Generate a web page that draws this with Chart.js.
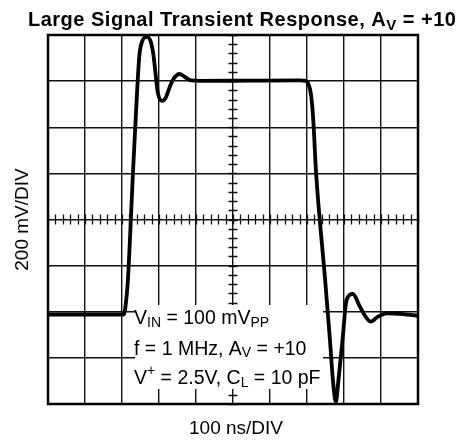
<!DOCTYPE html>
<html>
<head>
<meta charset="utf-8">
<script src="https://cdn.jsdelivr.net/npm/chart.js@4/dist/chart.umd.min.js"></script>
<style>
  html, body { margin: 0; padding: 0; background: #fff; }
  #c { display: block; }
</style>
</head>
<body>
<canvas id="c" width="472" height="443"></canvas>
<script>
// Output waveform samples: time in ns, output in mV
const timeNs = [0, 205, 212, 216, 230, 241, 247, 255, 266, 277, 285, 291, 297, 309, 319, 330, 341, 355, 370, 386, 411, 540, 681, 697, 705, 711, 717, 724, 749, 762, 770, 778, 785, 796, 807, 824, 843, 861, 872, 892, 915, 959, 1000];
const outputMv = [388, 388, 460, 538, 1015, 1362, 1513, 1574, 1591, 1574, 1513, 1427, 1348, 1314, 1331, 1379, 1414, 1431, 1418, 1403, 1401, 1402, 1403, 1401, 1383, 1340, 1231, 1015, 538, 278, 104, 9, 104, 278, 451, 477, 422, 373, 357, 379, 393, 390, 382];

// Scope screen: 10 x 8 divisions
const xRangeNs = [0, 1000];
const nsPerDiv = 100;
const yRangeMv = [0, 1600];
const mvPerDiv = 200;
const minorPerDiv = 5;

// Text runs: [text, 'sub' | 'sup' | undefined]
const titleRuns = [['Large Signal Transient Response, A'], ['V', 'sub'], [' = +10']];
const xAxisLabel = '100 ns/DIV';
const yAxisLabel = '200 mV/DIV';
const noteLines = [
  [['V'], ['IN', 'sub'], [' = 100 mV'], ['PP', 'sub']],
  [['f = 1 MHz, A'], ['V', 'sub'], [' = +10']],
  [['V'], ['+', 'sup'], [' = 2.5V, C'], ['L', 'sub'], [' = 10 pF']]
];

const FONT = '"Liberation Sans", Arial, Helvetica, sans-serif';

function drawRuns(ctx, x, y, runs, size, weight, subShift) {
  let cx = x;
  for (const [t, kind] of runs) {
    const s = kind ? Math.round(size * 0.74) : size;
    ctx.font = `${weight} ${s}px ${FONT}`;
    let dy = 0;
    if (kind === 'sub') dy = subShift;
    if (kind === 'sup') dy = -size * 0.47;
    ctx.fillText(t, cx, y + dy);
    cx += ctx.measureText(t).width;
  }
  return cx;
}

const scopePlugin = {
  id: 'scopeDecor',
  beforeDatasetsDraw(chart) {
    const { ctx, chartArea: a, scales: { x, y } } = chart;
    ctx.save();
    // minor ticks along the centre graticule lines
    const xc = x.getPixelForValue((xRangeNs[0] + xRangeNs[1]) / 2);
    const yc = y.getPixelForValue((yRangeMv[0] + yRangeMv[1]) / 2);
    ctx.strokeStyle = '#111';
    ctx.lineWidth = 1.3;
    ctx.beginPath();
    const xStep = nsPerDiv / minorPerDiv;
    for (let v = xRangeNs[0]; v <= xRangeNs[1] + 0.01; v += xStep) {
      const px = Math.round(x.getPixelForValue(v)) + 0.5;
      ctx.moveTo(px, yc - 5);
      ctx.lineTo(px, yc + 5);
    }
    const yStep = mvPerDiv / minorPerDiv;
    for (let v = yRangeMv[0]; v <= yRangeMv[1] + 0.01; v += yStep) {
      const py = Math.round(y.getPixelForValue(v)) + 0.5;
      ctx.moveTo(xc - 4.5, py);
      ctx.lineTo(xc + 4.5, py);
    }
    ctx.stroke();

    // outer frame
    ctx.lineWidth = 2.5;
    ctx.strokeStyle = '#000';
    ctx.strokeRect(a.left, a.top, a.right - a.left, a.bottom - a.top);

    // conditions note on a white panel
    ctx.fillStyle = '#fff';
    ctx.fillRect(135, 305, 188, 84);
    ctx.fillStyle = '#000';
    ctx.textBaseline = 'alphabetic';
    ctx.textAlign = 'left';
    const baselines = [324, 354.5, 384];
    noteLines.forEach((runs, i) => drawRuns(ctx, 134, baselines[i], runs, 19.5, 'normal', 2.5));
    ctx.restore();
  },
  afterDraw(chart) {
    const { ctx, chartArea: a } = chart;
    ctx.save();
    ctx.fillStyle = '#000';
    ctx.textBaseline = 'alphabetic';
    ctx.textAlign = 'left';
    ctx.letterSpacing = '0.5px';
    drawRuns(ctx, 28, 26, titleRuns, 20, 'bold', 3.5);
    ctx.letterSpacing = '0px';

    ctx.font = `19px ${FONT}`;
    ctx.textAlign = 'center';
    ctx.fillText(xAxisLabel, (a.left + a.right) / 2 + 3, 434);

    ctx.translate(28, (a.top + a.bottom) / 2);
    ctx.rotate(-Math.PI / 2);
    ctx.fillText(yAxisLabel, 0, 0);
    ctx.restore();
  }
};

new Chart(document.getElementById('c'), {
  type: 'line',
  data: {
    datasets: [{
      data: timeNs.map((t, i) => ({ x: t, y: outputMv[i] })),
      borderColor: '#000',
      borderWidth: 3.8,
      pointRadius: 0,
      fill: false,
      cubicInterpolationMode: 'monotone'
    }]
  },
  options: {
    responsive: false,
    animation: false,
    devicePixelRatio: 1,
    layout: { padding: { left: 48, top: 35, right: 54, bottom: 39 } },
    scales: {
      x: {
        type: 'linear',
        min: xRangeNs[0], max: xRangeNs[1],
        ticks: { display: false, stepSize: nsPerDiv },
        grid: { color: '#111', lineWidth: 1.4, drawTicks: false },
        border: { display: false }
      },
      y: {
        type: 'linear',
        min: yRangeMv[0], max: yRangeMv[1],
        ticks: { display: false, stepSize: mvPerDiv },
        grid: { color: '#111', lineWidth: 1.4, drawTicks: false },
        border: { display: false }
      }
    },
    plugins: {
      legend: { display: false },
      tooltip: { enabled: false },
      title: { display: false }
    }
  },
  plugins: [scopePlugin]
});
</script>
</body>
</html>
